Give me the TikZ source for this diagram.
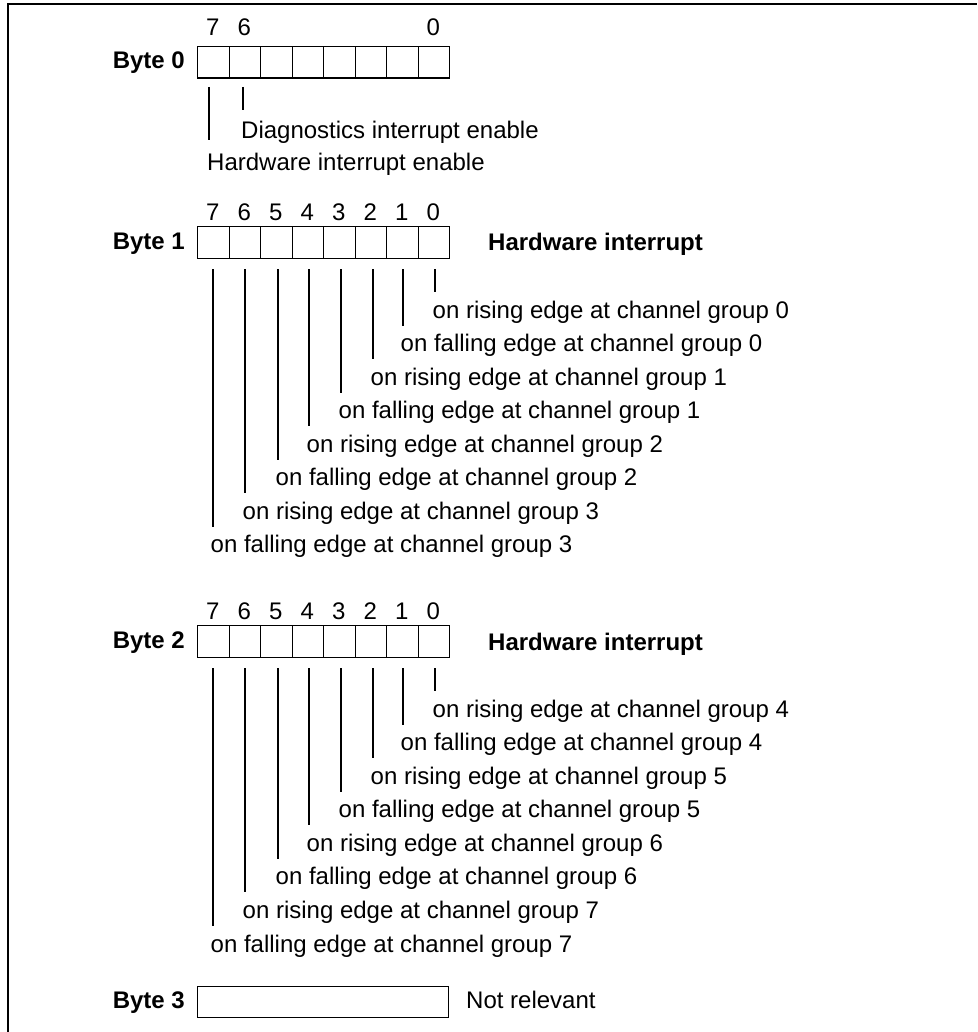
\documentclass[tikz,border=0pt]{standalone}
\usepackage{fontspec}
\setmainfont{Liberation Sans}
\begin{document}
\begin{tikzpicture}[x=1pt,y=-1pt,
  font=\fontsize{24}{28}\selectfont,
  cell/.style={draw, line width=1.3pt, minimum width=31.5pt, minimum height=31.5pt, inner sep=0pt, anchor=north west},
  lbl/.style={inner sep=0pt, anchor=base},
  txt/.style={inner sep=0pt, anchor=base west},
  bytelbl/.style={inner sep=0pt, anchor=base east, font=\fontsize{24}{28}\selectfont\bfseries},
  headlbl/.style={inner sep=0pt, anchor=base west, font=\fontsize{24}{28}\selectfont\bfseries},
  tick/.style={line width=1.2pt}]
\useasboundingbox (0,0) rectangle (977,1032);
\draw[line width=1.6pt] (8,1032) -- (8,4) -- (977,4);

% ---------- Byte 0 ----------
\node[bytelbl] (byte0) at (185,68.3) {Byte 0};
\foreach \i in {0,...,7}{
  \pgfmathtruncatemacro{\b}{7-\i}
  \node[cell] (b0bit\b) at (197+31.5*\i,46) {};
}
\node[lbl] (b0n7) at (212.75,36) {7};
\node[lbl] (b0n6) at (244.25,36) {6};
\node[lbl] (b0n0) at (433.25,36) {0};
\coordinate (b0s6) at (243,87);
\coordinate (b0s7) at (209,87);
\node[txt] (b0t6) at (241,138.3) {Diagnostics interrupt enable};
\node[txt] (b0t7) at (207,170.5) {Hardware interrupt enable};
\draw[tick] (b0s6) -- ([xshift=2pt,yshift=28pt]b0t6.base west);
\draw[tick] (b0s7) -- ([xshift=2pt,yshift=30pt]b0t7.base west);

% ---------- Byte 1 and Byte 2 ----------
\foreach \n/\dy/\ga/\gb/\gc/\gd in {1/0/0/1/2/3, 2/399/4/5/6/7}{
  \node[bytelbl] (byte\n) at (185,249.3+\dy) {Byte \n};
  \node[headlbl] (hw\n) at (488,251+\dy) {Hardware interrupt};
  \foreach \i in {0,...,7}{
    \pgfmathtruncatemacro{\b}{7-\i}
    \node[cell] (b\n bit\b) at (197+31.5*\i,226+\dy) {};
    \node[lbl] (b\n n\b) at (212.75+31.5*\i,220.7+\dy) {\b};
  }
  \foreach \k/\lx/\txt in {0/435/{on rising edge at channel group \ga},
                           1/403/{on falling edge at channel group \ga},
                           2/373/{on rising edge at channel group \gb},
                           3/341/{on falling edge at channel group \gb},
                           4/309/{on rising edge at channel group \gc},
                           5/278/{on falling edge at channel group \gc},
                           6/245/{on rising edge at channel group \gd},
                           7/213/{on falling edge at channel group \gd}}{
    \coordinate (b\n s\k) at (\lx,269+\dy);
    \node[txt] (b\n t\k) at (\lx-2.5,318+33.57*\k+\dy) {\txt};
    \draw[tick] (b\n s\k) -- ([xshift=2.5pt,yshift=26pt]b\n t\k.base west);
  }
}

% ---------- Byte 3 ----------
\node[bytelbl] (byte3) at (185,1008.3) {Byte 3};
\node[draw, line width=1.3pt, minimum width=251pt, minimum height=31pt, inner sep=0pt, anchor=north west] (b3box) at (197,986) {};
\node[txt] (b3t) at (466,1008.3) {Not relevant};
\end{tikzpicture}
\end{document}
